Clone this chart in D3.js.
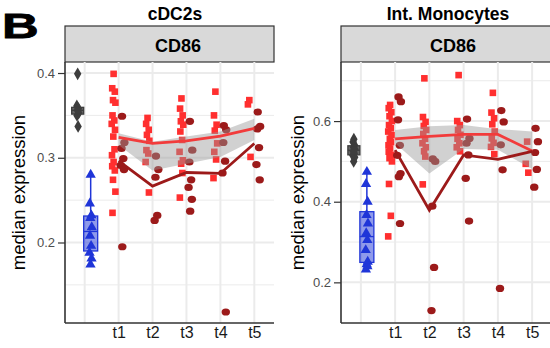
<!DOCTYPE html>
<html>
<head>
<meta charset="utf-8">
<script src="https://cdn.jsdelivr.net/npm/d3@7"></script>
<style>
  body { margin: 0; background: #fff; }
  svg { display: block; }
  text { font-family: "Liberation Sans", Arial, sans-serif; }
</style>
</head>
<body>
<svg id="chart" width="550" height="348"></svg>
<script>
// Categories on the x axis (first one is the unlabelled baseline)
const groups = ["ctrl", "t1", "t2", "t3", "t4", "t5"]
const groupLabels = ["", "t1", "t2", "t3", "t4", "t5"]

// cDC2s panel
const cdcGray = [0.399, 0.361, 0.358, 0.356, 0.353, 0.350, 0.337]
const cdcBlue = [0.280, 0.246, 0.232, 0.229, 0.218, 0.208, 0.196, 0.188, 0.181, 0.174]
const cdcRed = [
  [0.399, 0.382, 0.378, 0.368, 0.365, 0.350, 0.344, 0.340, 0.333, 0.325, 0.310, 0.303, 0.295, 0.290, 0.285, 0.274, 0.260, 0.235],
  [0.347, 0.340, 0.333, 0.327, 0.320, 0.309, 0.305, 0.295, 0.259],
  [0.370, 0.358, 0.350, 0.343, 0.339, 0.331, 0.321, 0.307, 0.297, 0.293, 0.282, 0.253],
  [0.378, 0.350, 0.339, 0.332, 0.317, 0.307, 0.298, 0.276],
  [0.368, 0.363, 0.301]
]
const cdcDark = [
  [0.349, 0.318, 0.311, 0.299, 0.291, 0.286, 0.195],
  [0.302, 0.286, 0.277, 0.232, 0.226],
  [0.343, 0.309, 0.295, 0.274, 0.265, 0.251, 0.237],
  [0.338, 0.333, 0.318, 0.296, 0.282, 0.118],
  [0.354, 0.337, 0.334, 0.312, 0.292, 0.274]
]
const cdcRedLine = [0.324, 0.317, 0.320, 0.3255, 0.3346]
const cdcDarkLine = [0.2963, 0.2665, 0.2826, 0.2815, 0.3169]
const cdcBandLow = [0.315, 0.285, 0.293, 0.301, 0.321]
const cdcBandHigh = [0.329, 0.319, 0.325, 0.331, 0.346]

// Int. Monocytes panel
const monoGray = [0.555, 0.548, 0.540, 0.535, 0.530, 0.525, 0.520, 0.515, 0.510, 0.500]
const monoBlue = [0.474, 0.444, 0.400, 0.367, 0.346, 0.322, 0.305, 0.280, 0.251, 0.245, 0.240, 0.232]
const monoRed = [
  [0.640, 0.632, 0.622, 0.612, 0.600, 0.590, 0.582, 0.574, 0.565, 0.556, 0.548, 0.540, 0.532, 0.524, 0.516, 0.508, 0.500, 0.444, 0.365, 0.314],
  [0.706, 0.610, 0.598, 0.588, 0.578, 0.568, 0.556, 0.545, 0.535, 0.525, 0.512, 0.443],
  [0.714, 0.600, 0.590, 0.578, 0.566, 0.556, 0.545, 0.535, 0.525],
  [0.670, 0.621, 0.607, 0.592, 0.574, 0.557, 0.546, 0.536, 0.518],
  [0.549, 0.494, 0.472]
]
const monoDark = [
  [0.660, 0.648, 0.603, 0.540, 0.515, 0.470, 0.462, 0.346],
  [0.506, 0.500, 0.389, 0.237, 0.130],
  [0.605, 0.557, 0.545, 0.516, 0.458, 0.352],
  [0.626, 0.598, 0.541, 0.479, 0.185],
  [0.582, 0.549, 0.522, 0.480, 0.436]
]
const monoRedLine = [0.556, 0.562, 0.567, 0.567, 0.526]
const monoDarkLine = [0.528, 0.379, 0.516, 0.505, 0.525]
const monoBandLow = [0.545, 0.470, 0.531, 0.529, 0.481]
const monoBandHigh = [0.578, 0.587, 0.590, 0.580, 0.574]

const colours = {
  gray: "#3d3d3d", blue: "#1f35d8", red: "#ff2f2f", dark: "#9c1a1a",
  redLine: "#f23b3b", darkLine: "#9c1a1a", band: "#9a9a9a",
  grid: "#ebebeb", axis: "#333333", strip: "#d9d9d9"
}

// small fixed horizontal spread so overlapping points stay visible
const spread = [0, -1.4, 1.2, -0.6, 1.8, -1.1, 0.7, -1.9, 1.4, -0.3, 0.9, -1.6]

const panels = [
  {
    title: "cDC2s", titleX: 175, stripX: 178,
    left: 65, right: 274, yDomain: [0.105, 0.413],
    ticks: [0.2, 0.3, 0.4], minor: [0.15, 0.25, 0.35], yTitleX: 25,
    gray: cdcGray, blue: cdcBlue, red: cdcRed, dark: cdcDark,
    redLine: cdcRedLine, darkLine: cdcDarkLine, low: cdcBandLow, high: cdcBandHigh
  },
  {
    title: "Int. Monocytes", titleX: 448, stripX: 453,
    left: 341, right: 552, yDomain: [0.0992, 0.7465],
    ticks: [0.2, 0.4, 0.6], minor: [0.3, 0.5, 0.7], yTitleX: 304,
    gray: monoGray, blue: monoBlue, red: monoRed, dark: monoDark,
    redLine: monoRedLine, darkLine: monoDarkLine, low: monoBandLow, high: monoBandHigh
  }
]

const panelTop = 62, panelBottom = 323, stripTop = 26

const svg = d3.select("#chart")

svg.append("text")
  .attr("transform", "translate(2,38) scale(1.45,1)")
  .attr("font-size", 35)
  .attr("font-weight", "bold")
  .attr("stroke", "#000").attr("stroke-width", 0.8)
  .text("B")

panels.forEach(drawPanel)

function drawPanel(p) {
  let x = d3.scalePoint().domain(groups).range([p.left, p.right]).padding(0.58)
  let y = d3.scaleLinear().domain(p.yDomain).range([panelBottom, panelTop])
  let g = svg.append("g")

  // title and strip
  g.append("text")
    .attr("x", p.titleX).attr("y", 20)
    .attr("text-anchor", "middle")
    .attr("font-size", 17.5).attr("font-weight", "bold")
    .text(p.title)
  g.append("rect")
    .attr("x", p.left).attr("y", stripTop)
    .attr("width", p.right - p.left).attr("height", panelTop - stripTop)
    .attr("fill", colours.strip).attr("stroke", colours.axis).attr("stroke-width", 1.2)
  g.append("text")
    .attr("x", p.stripX).attr("y", 51.5)
    .attr("text-anchor", "middle")
    .attr("font-size", 18).attr("font-weight", "bold")
    .text("CD86")

  // grid
  let grid = g.append("g")
  grid.selectAll("line.minor")
    .data(p.minor)
    .join("line")
    .attr("x1", p.left).attr("x2", p.right)
    .attr("y1", d => y(d)).attr("y2", d => y(d))
    .attr("stroke", colours.grid).attr("stroke-width", 1)
  grid.selectAll("line.major")
    .data(p.ticks)
    .join("line")
    .attr("x1", p.left).attr("x2", p.right)
    .attr("y1", d => y(d)).attr("y2", d => y(d))
    .attr("stroke", colours.grid).attr("stroke-width", 2)
  grid.selectAll("line.vert")
    .data(groups)
    .join("line")
    .attr("x1", d => x(d)).attr("x2", d => x(d))
    .attr("y1", panelTop).attr("y2", panelBottom)
    .attr("stroke", colours.grid).attr("stroke-width", 2)

  let cx = x("ctrl")

  // baseline groups: points with boxplots laid over them
  drawPoints(g, p.gray.map(v => [cx - 7, v]), y, d3.symbolDiamond, 48, colours.gray)
  drawPoints(g, p.blue.map(v => [cx + 6, v]), y, d3.symbolTriangle, 46, colours.blue)
  drawBox(g, p.gray, cx - 7, 12, y, colours.gray, 0.8)
  drawBox(g, p.blue, cx + 6, 14, y, colours.blue, 0.5)

  // time points
  let pts = g.append("g")
  groups.slice(1).forEach((t, i) => {
    pts.selectAll(null)
      .data(p.red[i])
      .join("rect")
      .attr("x", (d, j) => x(t) - 5 + spread[j % spread.length] - 3.3)
      .attr("y", d => y(d) - 3.3)
      .attr("width", 6.6).attr("height", 6.6)
      .attr("fill", colours.red)
    pts.selectAll(null)
      .data(p.dark[i])
      .join("ellipse")
      .attr("cx", (d, j) => x(t) + 4 + spread[(j + 3) % spread.length])
      .attr("cy", d => y(d))
      .attr("rx", 4.2).attr("ry", 3.6)
      .attr("fill", colours.dark)
  })

  // ribbon and lines
  let times = groups.slice(1)
  g.append("path")
    .datum(times.map((t, i) => [x(t), p.low[i], p.high[i]]))
    .attr("d", d3.area().x(d => d[0]).y0(d => y(d[1])).y1(d => y(d[2])))
    .attr("fill", colours.band).attr("opacity", 0.45)
  let line = d3.line().x(d => d[0]).y(d => y(d[1]))
  g.append("path")
    .datum(times.map((t, i) => [x(t), p.redLine[i]]))
    .attr("d", line)
    .attr("fill", "none").attr("stroke", colours.redLine).attr("stroke-width", 2.8)
  g.append("path")
    .datum(times.map((t, i) => [x(t), p.darkLine[i]]))
    .attr("d", line)
    .attr("fill", "none").attr("stroke", colours.darkLine).attr("stroke-width", 2.8)

  // axes
  let yAxis = g.append("g")
    .attr("transform", `translate(${p.left},0)`)
    .call(d3.axisLeft(y).tickValues(p.ticks).tickFormat(d3.format(".1f"))
      .tickSize(7).tickSizeOuter(0).tickPadding(3))
  yAxis.select(".domain").attr("stroke", colours.axis).attr("stroke-width", 1.6)
    .attr("d", `M0,${panelTop}V${panelBottom}`)
  yAxis.selectAll(".tick line").attr("stroke", colours.axis).attr("stroke-width", 1.2)
  yAxis.selectAll(".tick text")
    .attr("font-family", "'DejaVu Sans Mono', monospace")
    .attr("font-size", 13).attr("fill", "#4d4d4d")

  let xAxis = g.append("g")
    .attr("transform", `translate(0,${panelBottom})`)
    .call(d3.axisBottom(x).tickFormat((d, i) => groupLabels[i]).tickSize(0).tickPadding(4))
  xAxis.select(".domain").attr("stroke", colours.axis).attr("stroke-width", 1.6)
    .attr("d", `M${p.left},0H${p.right}`)
  xAxis.selectAll(".tick text")
    .attr("font-family", "'Liberation Sans', Arial, sans-serif")
    .attr("font-size", 16).attr("fill", "#1a1a1a")

  g.append("text")
    .attr("transform", `translate(${p.yTitleX},${(panelTop + panelBottom) / 2}) rotate(-90)`)
    .attr("text-anchor", "middle")
    .attr("font-size", 18.5)
    .text("median expression")
}

function drawPoints(g, data, y, type, size, colour) {
  g.append("g").selectAll("path")
    .data(data)
    .join("path")
    .attr("transform", (d, i) => `translate(${d[0] + spread[i % spread.length] * 0.6},${y(d[1])})`)
    .attr("d", d3.symbol().type(type).size(size))
    .attr("fill", colour)
}

function drawBox(g, values, cx, w, y, colour, alpha) {
  let s = values.slice().sort(d3.ascending)
  let q1 = d3.quantile(s, 0.25), med = d3.quantile(s, 0.5), q3 = d3.quantile(s, 0.75)
  let iqr = q3 - q1
  let lo = d3.min(s.filter(v => v >= q1 - 1.5 * iqr))
  let hi = d3.max(s.filter(v => v <= q3 + 1.5 * iqr))
  let b = g.append("g")
  b.append("line").attr("x1", cx).attr("x2", cx).attr("y1", y(hi)).attr("y2", y(q3))
    .attr("stroke", colour).attr("stroke-width", 1.5)
  b.append("line").attr("x1", cx).attr("x2", cx).attr("y1", y(q1)).attr("y2", y(lo))
    .attr("stroke", colour).attr("stroke-width", 1.5)
  b.append("rect")
    .attr("x", cx - w / 2).attr("width", w)
    .attr("y", y(q3)).attr("height", y(q1) - y(q3))
    .attr("fill", colour).attr("fill-opacity", alpha)
    .attr("stroke", colour).attr("stroke-width", 1.3)
  b.append("line").attr("x1", cx - w / 2).attr("x2", cx + w / 2)
    .attr("y1", y(med)).attr("y2", y(med))
    .attr("stroke", colour).attr("stroke-width", 1.3)
}
</script>
</body>
</html>
